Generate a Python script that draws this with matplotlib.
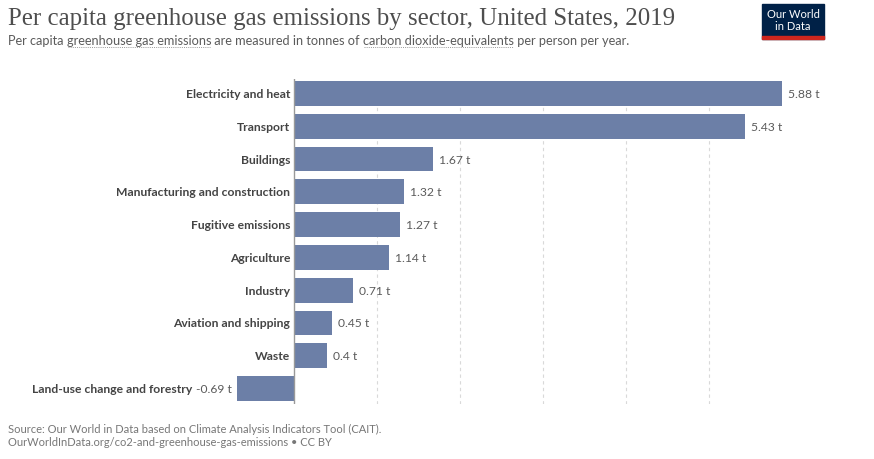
import matplotlib
matplotlib.use("Agg")
import matplotlib.pyplot as plt
from matplotlib.patches import Rectangle
from matplotlib.lines import Line2D

# data
sectors = ["Electricity and heat", "Transport", "Buildings",
           "Manufacturing and construction", "Fugitive emissions", "Agriculture",
           "Industry", "Aviation and shipping", "Waste",
           "Land-use change and forestry"]
values = [5.88, 5.43, 1.67, 1.32, 1.27, 1.14, 0.71, 0.45, 0.4, -0.69]
value_labels = ["5.88 t", "5.43 t", "1.67 t", "1.32 t", "1.27 t", "1.14 t",
                "0.71 t", "0.45 t", "0.4 t", "-0.69 t"]
grid_ticks = [1, 2, 3, 4, 5]

W, H = 874, 460
bar_col = "#6c7fa7"
txt_col = "#444444"
lbl_col = "#5b5b5b"
PT = 0.72  # points per pixel at dpi 100

fig = plt.figure(figsize=(W / 100, H / 100), dpi=100)
fig.patch.set_facecolor("white")

# axes placed in pixel coordinates: x -0.69 -> 237px, 5.88 -> 782px
x0px, x1px = 237, 782
y_top, y_bot = 80, 405
ax = fig.add_axes([x0px / W, 1 - y_bot / H, (x1px - x0px) / W, (y_bot - y_top) / H])
ax.set_xlim(min(values), max(values))
pitch = 33
ax.set_ylim(9 + (405 - 389.5) / pitch, -(94.5 - 80) / pitch)

ypos = list(range(len(sectors)))
ax.barh(ypos, values, height=0.76, color=bar_col, edgecolor="none", zorder=2)

for t in grid_ticks:
    ax.axvline(t, color="#d9d9d9", lw=0.8, ls=(0, (3, 3)), zorder=1)
ax.axvline(0, color="#999999", lw=1.0, zorder=3)

for sp in ax.spines.values():
    sp.set_visible(False)
ax.set_xticks([])
ax.set_yticks([])

font = "Lato"
fs_name = 8.7
fs_val = 8.7
for y, v, name, lab in zip(ypos, values, sectors, value_labels):
    if v >= 0:
        ax.annotate(name, (0, y), xytext=(-4 * PT, 0), textcoords="offset points",
                    ha="right", va="center", fontsize=fs_name, fontweight="bold",
                    color=txt_col, family=font, annotation_clip=False)
        ax.annotate(lab, (v, y), xytext=(6 * PT, 0), textcoords="offset points",
                    ha="left", va="center", fontsize=fs_val,
                    color=lbl_col, family=font, annotation_clip=False)
    else:
        ax.annotate(lab, (v, y), xytext=(-5 * PT, 0), textcoords="offset points",
                    ha="right", va="center", fontsize=fs_val,
                    color=lbl_col, family=font, annotation_clip=False)
        ax.annotate(name, (v, y), xytext=(-45 * PT, 0), textcoords="offset points",
                    ha="right", va="center", fontsize=fs_name, fontweight="bold",
                    color=txt_col, family=font, annotation_clip=False)

# titles
fig.text(8 / W, 1 - 19 / H, "Per capita greenhouse gas emissions by sector, United States, 2019",
         fontsize=17.9, family="Liberation Serif", color="#4e4e4e", va="center", ha="left")

# subtitle, with dotted underline under the two linked terms
sub_parts = ["Per capita ", "greenhouse gas emissions", " are measured in tonnes of ",
             "carbon dioxide-equivalents", " per person per year."]
sub_linked = [False, True, False, True, False]
renderer = fig.canvas.get_renderer()
xcur = 8
sub_y = 41
for part, linked in zip(sub_parts, sub_linked):
    t = fig.text(xcur / W, 1 - sub_y / H, part, fontsize=9.2, family=font,
                 color="#5b5b5b", va="center", ha="left")
    # width of prefix+part minus prefix keeps spaces counted
    probe = fig.text(0, 0, "x" + part + "x", fontsize=9.2, family=font)
    probe2 = fig.text(0, 0, "xx", fontsize=9.2, family=font)
    wpx = probe.get_window_extent(renderer).width - probe2.get_window_extent(renderer).width
    probe.remove()
    probe2.remove()
    if linked:
        fig.add_artist(Line2D([(xcur + 1) / W, (xcur + wpx - 1) / W],
                              [1 - (sub_y + 7) / H] * 2, transform=fig.transFigure,
                              color="#999999", lw=0.7, ls=(0, (1, 1.2))))
    xcur += wpx

# footer
fig.text(8 / W, 1 - 429 / H,
         "Source: Our World in Data based on Climate Analysis Indicators Tool (CAIT).",
         fontsize=8.0, family=font, color="#777777", va="center", ha="left")
fig.text(8 / W, 1 - 443 / H,
         "OurWorldInData.org/co2-and-greenhouse-gas-emissions \u2022 CC BY",
         fontsize=8.0, family=font, color="#777777", va="center", ha="left")

# logo
lx0, lx1, ly0, ly1 = 762, 824, 5, 40
fig.patches.append(Rectangle((lx0 / W, 1 - ly1 / H), (lx1 - lx0) / W, (ly1 - ly0) / H,
                             transform=fig.transFigure, color="#002147", zorder=5))
fig.patches.append(Rectangle((lx0 / W, 1 - ly1 / H), (lx1 - lx0) / W, 3 / H,
                             transform=fig.transFigure, color="#ce261e", zorder=6))
fig.text((lx0 + lx1) / 2 / W, 1 - 20.5 / H, "Our World\nin Data", fontsize=8,
         family=font, color="white", ha="center", va="center", linespacing=1.0, zorder=7)

fig.savefig("out.png", dpi=100, facecolor="white")
